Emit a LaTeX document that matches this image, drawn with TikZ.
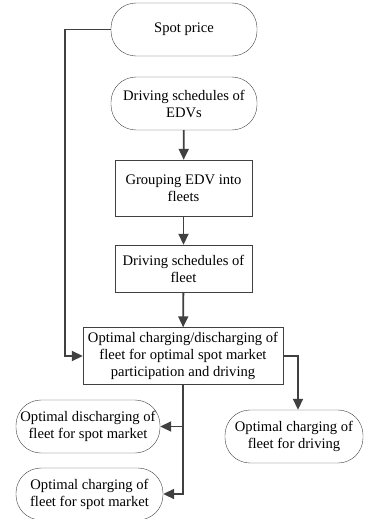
\documentclass[tikz,border=0pt]{standalone}
\usepackage{fontspec}
\setmainfont{Liberation Serif}
\usetikzlibrary{arrows.meta}
\definecolor{linegray}{HTML}{404040}
\begin{document}
\begin{tikzpicture}[x=1pt,y=-1pt,
  term/.style={draw=linegray, rounded corners=25pt, align=center, inner sep=0pt},
  proc/.style={draw=linegray, align=center, inner sep=0pt},
  arr/.style={draw=linegray, line width=1.8pt, -{Triangle[length=11pt,width=10pt]}},
  font=\fontsize{14.6}{17}\selectfont]
\useasboundingbox (0,0) rectangle (364,519);
\node[term, minimum width=146pt, minimum height=53pt] (spot) at (184,29.5) {Spot price};
\node[term, minimum width=146pt, minimum height=53pt] (edv) at (184,103.5) {Driving schedules of\\EDVs};
\node[proc, minimum width=137pt, minimum height=56pt] (group) at (183.5,188) {Grouping EDV into\\fleets};
\node[proc, minimum width=137pt, minimum height=47pt] (fleet) at (183.5,268.5) {Driving schedules of\\fleet};
\node[proc, minimum width=200pt, minimum height=57pt] (opt) at (183,356) {Optimal charging/discharging of\\fleet for optimal spot market\\participation and driving};
\node[term, minimum width=144pt, minimum height=53pt] (dis) at (88,426.5) {Optimal discharging of\\fleet for spot market};
\node[term, minimum width=147pt, minimum height=52pt] (chg) at (89.5,494) {Optimal charging of\\fleet for spot market};
\node[term, minimum width=138pt, minimum height=53pt] (drv) at (294,436.5) {Optimal charging of\\fleet for driving};
\coordinate (bend) at (65,29.5);
\path[arr] (edv) -- (group);
\path[arr] (group) -- (fleet);
\path[arr] (fleet) -- (opt);
\path[arr] (spot.west) -- (bend) |- (opt.west);
\path[arr] (opt.east) -| ([xshift=4pt]drv.north);
\path[arr] (opt.south) |- (chg.east);
\path[arr] (opt.south |- dis.east) -- (dis.east);
\end{tikzpicture}
\end{document}
